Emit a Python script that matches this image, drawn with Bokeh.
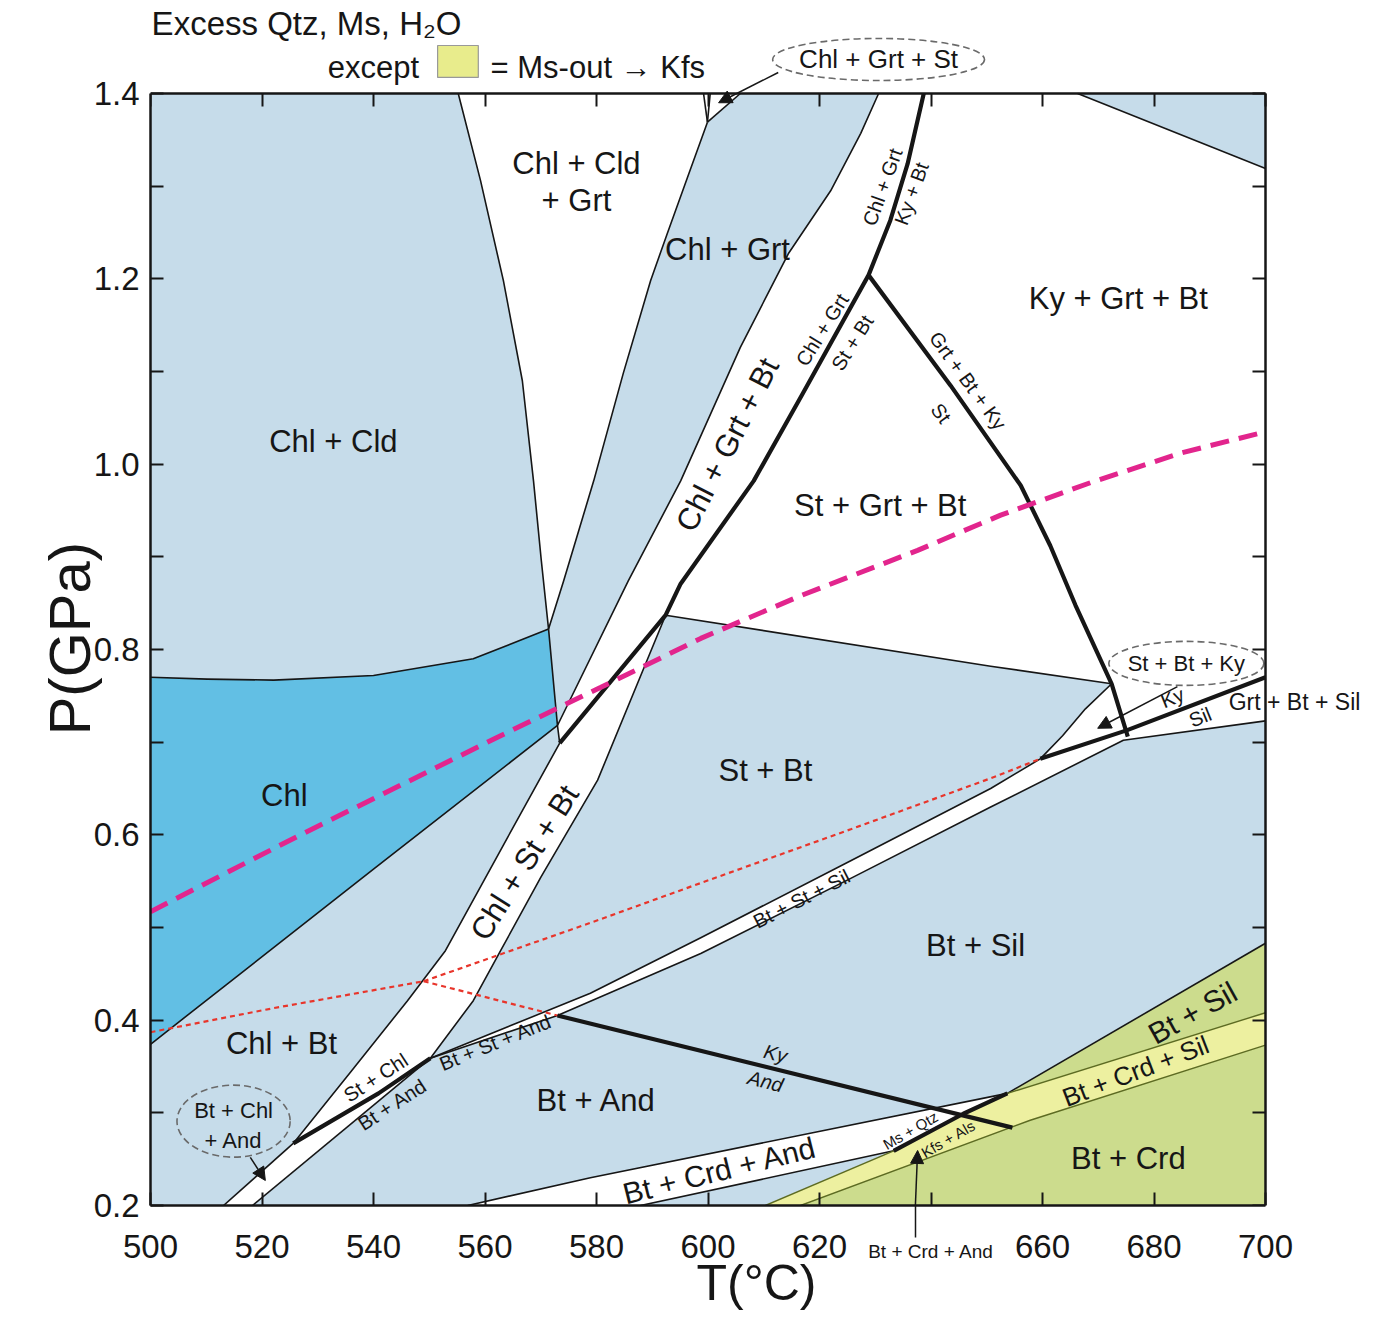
import numpy as np
from bokeh.plotting import figure
from bokeh.models import (LinearAxis, FixedTicker, PrintfTickFormatter, CustomJSTickFormatter,
                          Arrow, NormalHead)
from bokeh.core.properties import value
from bokeh.embed import file_html
from bokeh.resources import INLINE

FONT = "Liberation Sans"
INK = "#161616"

# ---------------- axes ----------------
T_MIN, T_MAX = 500, 700
P_MIN, P_MAX = 0.2, 1.4
x_ticks = [500, 520, 540, 560, 580, 600, 620, 640, 660, 680, 700]
y_ticks = [0.2, 0.4, 0.6, 0.8, 1.0, 1.2, 1.4]
y_minor = [0.3, 0.5, 0.7, 0.9, 1.1, 1.3]
x_title = "T(\u00b0C)"
y_title, y_title_P = "P(GPa)", 0.916   # rotated label is anchored at its end

# ---------------- field boundaries (T degC, P GPa) ----------------
chlcld_T = [555.2, 559.2, 563.3, 566.7, 568.7, 570.1, 571.4]
chlcld_P = [1.400, 1.306, 1.198, 1.090, 0.982, 0.896, 0.822]
L1_T = [599.9, 596.3, 592.7, 589.7, 584.8, 579.5, 574.1, 571.4]
L1_P = [1.369, 1.309, 1.249, 1.198, 1.098, 0.982, 0.874, 0.822]
cgs_T = [[599.2, 599.9], [600.4, 599.9], [599.9, 605.8]]
cgs_P = [[1.400, 1.369], [1.400, 1.369], [1.369, 1.400]]
L2_T = [630.6, 627.4, 622.0, 614.4, 605.8, 595.1, 585.7, 573.0]
L2_P = [1.400, 1.357, 1.295, 1.227, 1.126, 0.982, 0.874, 0.718]
chltop_T = [500.0, 510.2, 522.1, 540.0, 557.9, 571.4]
chltop_P = [0.770, 0.768, 0.767, 0.772, 0.790, 0.822]
chlright_T = [571.4, 573.0, 573.4]
chlright_P = [0.822, 0.718, 0.699]
chllow_T = [573.0, 540.0, 500.0]
chllow_P = [0.718, 0.563, 0.374]
csbL_T = [573.4, 563.3, 552.9, 546.1, 535.9, 525.6]
csbL_P = [0.699, 0.589, 0.475, 0.421, 0.344, 0.267]
csbR_T = [592.4, 580.2, 570.0, 562.8, 557.9, 550.2]
csbR_P = [0.837, 0.659, 0.554, 0.475, 0.421, 0.359]
bcaU_T = [513.1, 525.6]
bcaU_P = [0.200, 0.267]
bcaL_T = [518.3, 550.2]
bcaL_P = [0.200, 0.359]
bandU_T = [550.2, 578.9, 598.7, 625.6, 650.7, 659.6]
bandU_P = [0.359, 0.429, 0.489, 0.572, 0.650, 0.682]
bandL_T = [550.2, 573.0, 598.7, 625.6, 650.7, 674.5, 700.0]
bandL_P = [0.359, 0.405, 0.472, 0.553, 0.630, 0.702, 0.723]
stbt_T = [592.4, 650.7, 672.4]
stbt_P = [0.837, 0.782, 0.763]
wedge_T = [672.4, 667.7, 663.6, 659.6]
wedge_P = [0.763, 0.736, 0.707, 0.682]
ur_T = [666.3, 700.0]
ur_P = [1.400, 1.319]
bca2U_T = [556.9, 578.9, 653.7]
bca2U_P = [0.200, 0.230, 0.321]
bca2L_T = [587.9, 633.3]
bca2L_P = [0.200, 0.259]
yel_T = [610.3, 633.3]
yel_P = [0.200, 0.259]
grnLow_T = [616.6, 657.8, 700.0]
grnLow_P = [0.200, 0.292, 0.373]
grnMid_T = [653.7, 700.0]
grnMid_P = [0.321, 0.408]
grnTop_T = [653.7, 700.0]
grnTop_P = [0.321, 0.483]

# univariant (thick) reactions
thA_T = [638.7, 635.8, 632.7, 628.8, 616.8, 608.2, 595.1, 592.4, 573.4]
thA_P = [1.400, 1.324, 1.263, 1.204, 1.074, 0.982, 0.871, 0.837, 0.699]
thB_T = [525.6, 540.9, 550.2]
thB_P = [0.267, 0.321, 0.359]
thC_T = [659.6, 675.2, 700.0]
thC_P = [0.682, 0.713, 0.770]
thD_T = [628.8, 643.5, 656.1, 661.4, 665.9, 672.4, 675.3]
thD_P = [1.204, 1.085, 0.977, 0.912, 0.848, 0.763, 0.706]
thE_T = [573.0, 654.6]
thE_P = [0.405, 0.284]
thF_T = [633.3, 645.8, 653.7]
thF_P = [0.259, 0.299, 0.321]

# geotherm (magenta) and aluminosilicate lines (red dotted)
mag_T = [500.0, 526.9, 562.8, 580.7, 598.7, 616.6, 637.6, 652.5, 668.6, 684.8, 700.0]
mag_P = [0.517, 0.600, 0.707, 0.759, 0.812, 0.858, 0.907, 0.945, 0.980, 1.012, 1.035]
redA_T = [500.0, 522.1, 549.0]
redA_P = [0.387, 0.413, 0.442]
redB_T = [549.0, 573.0]
redB_P = [0.442, 0.405]
redC_T = [549.0, 578.9, 598.7, 625.6, 650.7, 659.6]
redC_P = [0.442, 0.505, 0.548, 0.606, 0.661, 0.682]

# ---------------- labels ----------------
big_text = ["Chl + Cld", "Chl + Cld", "+ Grt", "Chl + Grt", "Ky + Grt + Bt", "St + Grt + Bt",
            "Chl", "St + Bt", "Bt + Sil", "Chl + Bt", "Bt + And", "Bt + Crd"]
big_T = [532.8, 576.4, 576.4, 603.5, 673.6, 630.9, 524.0, 610.3, 648.0, 523.5, 580.0, 675.4]
big_P = [1.024, 1.324, 1.285, 1.232, 1.179, 0.955, 0.642, 0.669, 0.481, 0.375, 0.313, 0.251]

rot_text = ["Chl + Grt + Bt", "Chl + St + Bt", "Bt + Crd + And", "Bt + Sil", "Bt + Crd + Sil"]
rot_T = [603.5, 567.1, 602.1, 686.9, 676.7]
rot_P = [1.021, 0.570, 0.238, 0.408, 0.345]
rot_deg = [63, 58, 14, 29, 21]
rot_size = ["31px", "31px", "30px", "30px", "26px"]

sm_text = ["Chl + Grt", "Ky + Bt", "Chl + Grt", "St + Bt", "Grt + Bt + Ky", "St",
           "Bt + St + Sil", "Bt + St + And", "St + Chl", "Bt + And", "Ky", "Sil"]
sm_T = [631.3, 636.5, 620.5, 625.9, 646.6, 641.8, 616.8, 561.9, 540.4, 543.4, 683.3, 688.3]
sm_P = [1.299, 1.292, 1.145, 1.131, 1.090, 1.055, 0.531, 0.376, 0.338, 0.309, 0.748, 0.727]
sm_deg = [70, 70, 58, 58, -54, -54, 27, 22, 33, 33, 22, 22]

it_text = ["Ky", "And"]
it_T = [612.1, 610.3]
it_P = [0.364, 0.334]

tiny_text = ["Ms + Qtz", "Kfs + Als"]
tiny_T = [636.3, 643.1]
tiny_P = [0.281, 0.272]

ell_text = ["St + Bt + Ky", "Bt + Chl", "+ And", "Chl + Grt + St"]
ell_T = [685.8, 514.9, 514.9, 630.6]
ell_P = [0.785, 0.303, 0.270, 1.4367]
ell_size = ["22px", "22px", "22px", "26px"]

callout_text, callout_T, stem_T = "Bt + Crd + And", 640.0, 637.2

title_text = "Excess Qtz, Ms, H\u2082O"
title_T, title_P = 500.2, 1.4755
legend_text = ["except", "= Ms-out \u2192 Kfs"]
legend_T = [531.8, 561.0]
legend_P = [1.4285, 1.4285]
swatch = dict(left=551.5, right=558.8, bottom=1.4173, top=1.4518)


def rev(a):
    return list(a)[::-1]


# frame: x 150..1362 px, y 4..1205 px of a 1366x1315 canvas
PX_T = 200 / 1115.0
PX_P = 1.2 / 1112.0
x_hi = T_MAX + (1362 - 1265) * PX_T
y_hi = P_MAX + (93 - 4) * PX_P

p = figure(width=1366, height=1315, x_range=(T_MIN, x_hi), y_range=(P_MIN, y_hi),
           output_backend="svg", toolbar_location=None,
           min_border_left=150, min_border_right=4, min_border_top=4, min_border_bottom=110)
p.background_fill_color = "white"
p.border_fill_color = "white"
p.grid.visible = False
p.outline_line_color = None

blank = CustomJSTickFormatter(code="return ''")


def style_axis(ax, size="33px"):
    ax.axis_line_width = 2.5
    ax.axis_line_color = INK
    ax.major_tick_in = 13
    ax.major_tick_out = 0
    ax.major_tick_line_width = 2
    ax.major_tick_line_color = INK
    ax.minor_tick_in = 13
    ax.minor_tick_out = 0
    ax.minor_tick_line_width = 2
    ax.minor_tick_line_color = INK
    ax.major_label_text_font = FONT
    ax.major_label_text_font_size = size
    ax.major_label_text_color = INK
    ax.axis_label_text_font = FONT
    ax.axis_label_text_font_style = "normal"
    ax.axis_label_text_color = INK


def bare_axis(ax):
    ax.axis_line_color = None
    ax.major_tick_line_color = None
    ax.minor_tick_line_color = None
    ax.major_tick_in = 0
    ax.minor_tick_in = 0


# main T axis (its single minor tick is the stem of the call-out arrow below the axis)
STEM = 32
xax = p.xaxis[0]
style_axis(xax)
xax.ticker = FixedTicker(ticks=x_ticks, minor_ticks=[stem_T])
xax.bounds = (T_MIN, T_MAX)
xax.major_label_overrides = {640: ""}
xax.minor_tick_in = 0
xax.minor_tick_out = STEM
xax.minor_tick_line_width = 1.5
xax.major_label_standoff = 29 - STEM

# second row under the T axis: call-out label, and the axis title
e_ax = LinearAxis(ticker=FixedTicker(ticks=[callout_T], minor_ticks=[]), bounds=(T_MIN, T_MAX))
style_axis(e_ax, "19px")
bare_axis(e_ax)
e_ax.major_label_overrides = {callout_T: callout_text}
e_ax.major_label_standoff = -20
e_ax.axis_label = x_title
e_ax.axis_label_text_font_size = "50px"
e_ax.axis_label_standoff = -10
p.add_layout(e_ax, "below")

# main P axis
yax = p.yaxis[0]
style_axis(yax)
yax.ticker = FixedTicker(ticks=y_ticks, minor_ticks=y_minor)
yax.bounds = (P_MIN, P_MAX)
yax.formatter = PrintfTickFormatter(format="%.1f")
yax.major_label_standoff = 11

# P axis title as a rotated tick label so it is centred on the P range
p_ax = LinearAxis(ticker=FixedTicker(ticks=[y_title_P], minor_ticks=[]), bounds=(P_MIN, P_MAX))
style_axis(p_ax, "58px")
bare_axis(p_ax)
p_ax.major_label_overrides = {y_title_P: y_title}
p_ax.major_label_orientation = np.pi / 2
p_ax.major_label_standoff = 21
p.add_layout(p_ax, "left")

top = LinearAxis(ticker=FixedTicker(ticks=x_ticks, minor_ticks=[]), formatter=blank,
                 fixed_location=P_MAX, bounds=(T_MIN, T_MAX))
right = LinearAxis(ticker=FixedTicker(ticks=y_ticks, minor_ticks=y_minor), formatter=blank,
                   fixed_location=T_MAX, bounds=(P_MIN, P_MAX))
for ax in (top, right):
    style_axis(ax, "0px")
    ax.major_label_standoff = 0
p.add_layout(top, "above")
p.add_layout(right, "right")

# ---------------- fields ----------------
W1_T = chlcld_T + rev(L1_T) + [cgs_T[2][1]]
W1_P = chlcld_P + rev(L1_P) + [cgs_P[2][1]]
W2_T = L2_T + rev(thA_T)
W2_P = L2_P + rev(thA_P)
W3_T = csbL_T + thB_T[1:] + rev(csbR_T)[1:]
W3_P = csbL_P + thB_P[1:] + rev(csbR_P)[1:]
W4_T = bcaU_T + thB_T[1:] + rev(bcaL_T)[1:]
W4_P = bcaU_P + thB_P[1:] + rev(bcaL_P)[1:]
W5_T = bandU_T + [thC_T[1]] + rev(bandL_T[:-1])
W5_P = bandU_P + [thC_P[1]] + rev(bandL_P[:-1])
W7_T = [thA_T[0]] + ur_T + [bandL_T[-1], bandL_T[-2], thC_T[1], thC_T[0]] + rev(wedge_T)[1:] \
    + rev(stbt_T)[1:] + rev(thA_T[:8])[1:]
W7_P = [thA_P[0]] + ur_P + [bandL_P[-1], bandL_P[-2], thC_P[1], thC_P[0]] + rev(wedge_P)[1:] \
    + rev(stbt_P)[1:] + rev(thA_P[:8])[1:]
W8_T = bca2U_T + rev(thF_T)[1:] + rev(bca2L_T)[1:]
W8_P = bca2U_P + rev(thF_P)[1:] + rev(bca2L_P)[1:]
CHL_T = chltop_T + chllow_T
CHL_P = chltop_P + chllow_P
YEL_T = yel_T + thF_T[1:] + [grnMid_T[1]] + rev(grnLow_T)
YEL_P = yel_P + thF_P[1:] + [grnMid_P[1]] + rev(grnLow_P)
G1_T = grnTop_T + [grnMid_T[1]]
G1_P = grnTop_P + [grnMid_P[1]]
G2_T = grnLow_T + [T_MAX]
G2_P = grnLow_P + [P_MIN]

p.quad(left=[T_MIN], right=[T_MAX], bottom=[P_MIN], top=[P_MAX], fill_color="#c6dcea",
       line_color=None)
p.patches(xs=[W1_T, W2_T, W3_T, W4_T, W5_T, W7_T, W8_T],
          ys=[W1_P, W2_P, W3_P, W4_P, W5_P, W7_P, W8_P],
          fill_color="white", line_color=None)
p.patches(xs=[CHL_T], ys=[CHL_P], fill_color="#62bfe4", line_color=None)
p.patches(xs=[YEL_T], ys=[YEL_P], fill_color="#edf0a0", line_color=None)
p.patches(xs=[G1_T, G2_T], ys=[G1_P, G2_P], fill_color="#ccdc8d", line_color=None)

thin_T = [chlcld_T, L1_T] + cgs_T + [L2_T, chltop_T, chlright_T, chllow_T, csbL_T, csbR_T,
                                     bcaU_T, bcaL_T, bandU_T, bandL_T, stbt_T, wedge_T, ur_T,
                                     bca2U_T, bca2L_T, grnTop_T]
thin_P = [chlcld_P, L1_P] + cgs_P + [L2_P, chltop_P, chlright_P, chllow_P, csbL_P, csbR_P,
                                     bcaU_P, bcaL_P, bandU_P, bandL_P, stbt_P, wedge_P, ur_P,
                                     bca2U_P, bca2L_P, grnTop_P]
p.multi_line(xs=thin_T, ys=thin_P, line_color=INK, line_width=1.6, line_join="round")
p.multi_line(xs=[yel_T, grnLow_T, grnMid_T], ys=[yel_P, grnLow_P, grnMid_P],
             line_color="#5d6b22", line_width=1.4)
p.multi_line(xs=[redA_T, redB_T, redC_T], ys=[redA_P, redB_P, redC_P],
             line_color="#e8352b", line_width=2.2, line_dash="5 4")
p.multi_line(xs=[thA_T, thB_T, thC_T, thD_T, thE_T, thF_T],
             ys=[thA_P, thB_P, thC_P, thD_P, thE_P, thF_P],
             line_color=INK, line_width=4.2, line_join="round")
p.line(mag_T, mag_P, line_color="#e2258d", line_width=5, line_dash="19 10")

# ---------------- texts ----------------
p.text(x=big_T, y=big_P, text=big_text, text_font=value(FONT), text_font_size=value("31px"),
       text_align="center", text_baseline="middle", text_color=INK)
for t, x, y, d, s in zip(rot_text, rot_T, rot_P, rot_deg, rot_size):
    p.text(x=[x], y=[y], text=[t], angle=np.deg2rad(d), text_font=value(FONT),
           text_font_size=value(s), text_align="center", text_baseline="middle", text_color=INK)
p.text(x=sm_T, y=sm_P, text=sm_text, angle=list(np.deg2rad(sm_deg)), text_font=value(FONT),
       text_font_size=value("20px"), text_align="center", text_baseline="middle", text_color=INK)
p.text(x=it_T, y=it_P, text=it_text, angle=np.deg2rad(-14), text_font=value(FONT),
       text_font_style="italic", text_font_size=value("20px"), text_align="center",
       text_baseline="middle", text_color=INK)
p.text(x=tiny_T, y=tiny_P, text=tiny_text, angle=np.deg2rad(30), text_font=value(FONT),
       text_font_size=value("15px"), text_align="center", text_baseline="middle", text_color=INK)
for t, x, y, s in zip(ell_text, ell_T, ell_P, ell_size):
    p.text(x=[x], y=[y], text=[t], text_font=value(FONT), text_font_size=value(s),
           text_align="center", text_baseline="middle", text_color=INK)
p.text(x=[693.4], y=[0.743], text=["Grt + Bt + Sil"], text_font=value(FONT),
       text_font_size=value("23px"), text_align="left", text_baseline="middle", text_color=INK)

# header
p.text(x=[title_T], y=[title_P], text=[title_text], text_font=value(FONT),
       text_font_size=value("33px"), text_align="left", text_baseline="middle",
       text_color=INK)
p.text(x=legend_T, y=legend_P, text=legend_text, text_font=value(FONT),
       text_font_size=value("31px"), text_align="left", text_baseline="middle",
       text_color=INK)
p.quad(left=[swatch["left"]], right=[swatch["right"]], bottom=[swatch["bottom"]],
       top=[swatch["top"]], fill_color="#e8ec8c", line_color="#999999", line_width=1.2)

# dashed call-out ellipses
p.ellipse(x=[685.8, 514.9, 630.6], y=[0.785, 0.291, 1.4367], width=[27.8, 20.3, 38.0],
          height=[0.0475, 0.0777, 0.0454], fill_color=None, line_color="#6a6a6a",
          line_width=1.6, line_dash="7 4")

# arrows
for xs, ys, xe, ye in [(612.6, 1.4227, 601.9, 1.390), (684.2, 0.760, 669.9, 0.715),
                       (517.9, 0.252, 520.6, 0.227), (stem_T, P_MIN, 637.6, 0.2594)]:
    p.add_layout(Arrow(end=NormalHead(size=13, fill_color=INK, line_color=INK, line_width=1),
                       x_start=xs, y_start=ys, x_end=xe, y_end=ye,
                       line_color=INK, line_width=1.5))

open("out.html", "w", encoding="utf-8").write(file_html(p, INLINE, title="P-T pseudosection"))
